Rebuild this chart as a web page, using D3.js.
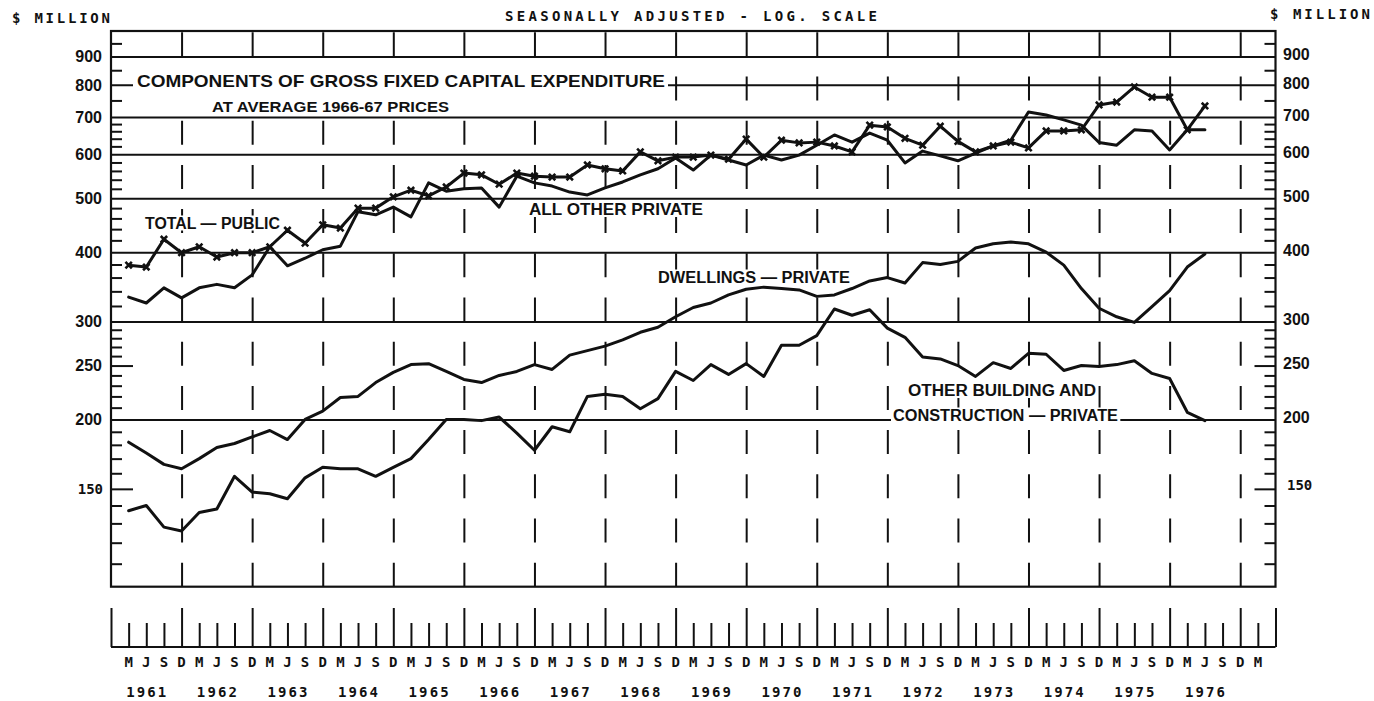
<!DOCTYPE html>
<meta charset="utf-8">
<style>
body { margin: 0; background: #fff; }
svg { display: block; background: #fff; }
.axis path { display: none; }
.axis line { stroke: #111; stroke-width: 2; }
.grid line { stroke: #111; stroke-width: 2; }
.vgrid line { stroke: #111; stroke-width: 2; stroke-dasharray: 24, 20.2; }
.plotter { font-family: "DejaVu Sans Mono", monospace; font-weight: bold; fill: #111; }
.bold { font-family: "Liberation Sans", Arial, sans-serif; font-weight: bold; fill: #111; }
.series { fill: none; stroke: #111; stroke-width: 3; stroke-linejoin: round; stroke-linecap: round; }
.marker { stroke: #111; stroke-width: 2.6; fill: none; }
</style>

<svg width="1374" height="701"></svg>

<script src="https://d3js.org/d3.v7.min.js"></script>
<script>

// quarter index: 0 = D 1960, 1 = M 1961 ... 62 = J 1976, 66 = J 1977 (right edge)
var quarterIdx = d3.range(1, 63);

// $ million, one value per quarter M 1961 .. J 1976
var totalPublic = [379, 376, 422, 399, 409, 392, 399, 399, 409, 438,
                   415, 448, 442, 480, 480, 503, 517, 505, 524, 555,
                   551, 530, 555, 548, 546, 546, 574, 565, 560, 606,
                   584, 593, 593, 598, 588, 639, 593, 636, 629, 631,
                   621, 606, 677, 672, 641, 623, 674, 633, 606, 621,
                   631, 616, 661, 661, 664, 736, 745, 793, 760, 760,
                   664, 733];

var allOtherPrivate = [332, 324, 345, 331, 345, 350, 345, 364, 409, 378,
                       390, 404, 410, 473, 467, 482, 463, 533, 515, 520,
                       522, 482, 548, 533, 526, 513, 507, 522, 535, 551,
                       565, 591, 562, 598, 586, 574, 598, 586, 598, 623,
                       650, 631, 655, 636, 579, 608, 596, 584, 603, 621,
                       636, 715, 706, 692, 677, 630, 623, 664, 661, 611,
                       664, 664];

var dwellingsPrivate = [182, 174, 166, 163, 170, 178, 181, 186, 191, 184,
                        200, 207, 219, 220, 233, 243, 251, 252, 244, 236,
                        233, 240, 244, 251, 246, 261, 266, 271, 278, 287,
                        293, 306, 318, 324, 335, 343, 346, 344, 342, 333,
                        335, 344, 355, 360, 352, 383, 380, 385, 407, 414,
                        417, 414, 400, 379, 344, 317, 306, 299, 319, 341,
                        376, 397];

var otherBuilding = [137, 140, 128, 126, 136, 138, 158, 148, 147, 144,
                     157, 164, 163, 163, 158, 164, 170, 184, 200, 200,
                     199, 202, 189, 176, 194, 190, 220, 222, 220, 209,
                     218, 244, 235, 251, 241, 252, 239, 272, 272, 283,
                     316, 308, 315, 292, 281, 259, 257, 250, 239, 253,
                     247, 263, 262, 245, 250, 249, 251, 255, 242, 237,
                     206, 199];

// axis stuff
var gridValues = [200, 300, 400, 500, 600, 700, 800, 900];
var boldLabels = [200, 250, 300, 400, 500, 600, 700, 800, 900];
var minorTicks = [110, 120, 130, 140, 160, 170, 180, 190,
                  210, 220, 230, 240, 260, 270, 280, 290,
                  320, 340, 360, 380, 420, 440, 460, 480,
                  520, 540, 560, 580, 620, 640, 660, 680,
                  750, 850, 950];
var longTicks = [150, 250];
var monthNames = ["M", "J", "S", "D"];
var years = d3.range(1961, 1977);

var svg = d3.select("svg");

var x = d3.scaleLinear().domain([0, 66]).range([111, 1275.5]);
var y = d3.scaleLog().domain([100, 1000]).range([586.7, 31]);

// (window.top is read-only, so not called "top")
var plotLeft = x(0), plotRight = x(66), plotTop = y(1000), plotBottom = y(100);
var plotW = plotRight - plotLeft, plotH = plotBottom - plotTop;

// horizontal grid
svg.append("g")
    .attr("class", "grid")
    .attr("transform", "translate(" + plotLeft + ",0)")
    .call(d3.axisRight(y).tickValues(gridValues).tickSize(plotW).tickFormat(""))
    .select(".domain").remove();

// dashed yearly verticals (at each D)
svg.append("g")
    .attr("class", "vgrid")
    .attr("transform", "translate(0," + plotBottom + ")")
    .call(d3.axisBottom(x).tickValues(d3.range(4, 65, 4)).tickSize(-plotH).tickFormat(""))
    .select(".domain").remove();

// minor ticks inside the frame, both sides
svg.append("g")
    .attr("class", "axis")
    .attr("transform", "translate(" + plotLeft + ",0)")
    .call(d3.axisRight(y).tickValues(minorTicks).tickSize(11).tickFormat(""));
svg.append("g")
    .attr("class", "axis")
    .attr("transform", "translate(" + plotRight + ",0)")
    .call(d3.axisLeft(y).tickValues(minorTicks).tickSize(11).tickFormat(""));
svg.append("g")
    .attr("class", "axis")
    .attr("transform", "translate(" + plotLeft + ",0)")
    .call(d3.axisRight(y).tickValues(longTicks).tickSize(22).tickFormat(""));
svg.append("g")
    .attr("class", "axis")
    .attr("transform", "translate(" + plotRight + ",0)")
    .call(d3.axisLeft(y).tickValues(longTicks).tickSize(21).tickFormat(""));

// frame
svg.append("rect")
    .attr("x", plotLeft).attr("y", plotTop)
    .attr("width", plotW).attr("height", plotH)
    .attr("fill", "none").attr("stroke", "#111").attr("stroke-width", 2.2);

// y labels
svg.append("g").selectAll("text")
    .data(boldLabels).enter().append("text")
    .attr("class", "bold")
    .attr("x", 102)
    .attr("y", function(d) { return y(d); })
    .attr("dy", "0.36em")
    .attr("text-anchor", "end")
    .style("font-size", "16px")
    .text(function(d) { return d; });

svg.append("g").selectAll("text")
    .data(boldLabels).enter().append("text")
    .attr("class", "bold")
    .attr("x", 1283)
    .attr("y", function(d) { return y(d) - 2; })
    .attr("dy", "0.36em")
    .style("font-size", "16px")
    .text(function(d) { return d; });

svg.append("text").attr("class", "plotter")
    .attr("x", 103).attr("y", y(150)).attr("dy", "0.36em")
    .attr("text-anchor", "end")
    .style("font-size", "14px")
    .text("150");
svg.append("text").attr("class", "plotter")
    .attr("x", 1287).attr("y", y(150) - 4).attr("dy", "0.36em")
    .style("font-size", "14px")
    .text("150");

// header texts
function plotterText(str, x0, yb, len, size) {
  return svg.append("text").attr("class", "plotter")
    .attr("x", x0).attr("y", yb)
    .attr("textLength", len).attr("lengthAdjust", "spacing")
    .style("font-size", size + "px")
    .text(str);
}
plotterText("$ MILLION", 12, 23, 98, 14);
plotterText("$ MILLION", 1270, 18.5, 100, 14);
plotterText("SEASONALLY ADJUSTED - LOG. SCALE", 505, 20.5, 372, 14);

// bottom time strip
var stripY = 647;
svg.append("line")
    .attr("x1", plotLeft).attr("x2", plotRight)
    .attr("y1", stripY).attr("y2", stripY)
    .attr("stroke", "#111").attr("stroke-width", 2.2);
svg.append("g")
    .attr("class", "axis")
    .attr("transform", "translate(0," + stripY + ")")
    .call(d3.axisTop(x).tickValues(d3.range(0, 67).filter(function(i) { return i % 4 != 0 && i != 66; }))
          .tickSize(24).tickFormat(""));
svg.append("g")
    .attr("class", "axis")
    .attr("transform", "translate(0," + stripY + ")")
    .call(d3.axisTop(x).tickValues(d3.range(0, 65, 4).concat([66])).tickSize(39).tickFormat(""));

svg.append("g").selectAll("text")
    .data(d3.range(1, 66)).enter().append("text")
    .attr("class", "plotter")
    .attr("x", function(i) { return x(i); })
    .attr("y", 667)
    .attr("text-anchor", "middle")
    .style("font-size", "14px")
    .text(function(i) { return monthNames[(i - 1) % 4]; });

svg.append("g").selectAll("text")
    .data(years).enter().append("text")
    .attr("class", "plotter")
    .attr("x", function(d) { return x((d - 1961) * 4 + 2) - 20; })
    .attr("y", 697)
    .attr("textLength", 40).attr("lengthAdjust", "spacing")
    .style("font-size", "14px")
    .text(function(d) { return d; });

// labels with white boxes behind them
var labelLayer = svg.append("g");

svg.append("rect")
    .attr("x", 133).attr("y", 66).attr("width", 535).attr("height", 48)
    .attr("fill", "#fff");

function boldLabel(str, x0, yb, len, size) {
  var t = labelLayer.append("text").attr("class", "bold")
    .attr("x", x0).attr("y", yb)
    .attr("textLength", len).attr("lengthAdjust", "spacingAndGlyphs")
    .style("font-size", size + "px")
    .text(str);
  var bb = t.node().getBBox();
  labelLayer.insert("rect", "text")
    .attr("x", bb.x - 2).attr("y", bb.y + 1)
    .attr("width", bb.width + 4).attr("height", bb.height - 2)
    .attr("fill", "#fff");
  return t;
}

labelLayer.raise();
boldLabel("COMPONENTS OF GROSS FIXED CAPITAL EXPENDITURE", 137, 87, 528, 17);
boldLabel("AT AVERAGE 1966-67 PRICES", 212, 112, 237, 14);
boldLabel("TOTAL \u2014 PUBLIC", 145, 228.5, 135, 16);
boldLabel("ALL OTHER PRIVATE", 529, 215, 174, 16.5);
boldLabel("DWELLINGS \u2014 PRIVATE", 658, 282.5, 192, 16);
boldLabel("OTHER BUILDING AND", 908, 396, 188, 16);
boldLabel("CONSTRUCTION \u2014 PRIVATE", 893, 420.5, 225, 16);

// series
var line = d3.line()
    .x(function(d) { return x(d[0]); })
    .y(function(d) { return y(d[1]); });

function pairs(vals) {
  return quarterIdx.map(function(q, i) { return [q, vals[i]]; });
}

[allOtherPrivate, dwellingsPrivate, otherBuilding, totalPublic].forEach(function(s) {
  svg.append("path")
      .datum(pairs(s))
      .attr("class", "series")
      .attr("d", line);
});

svg.append("g").selectAll("path")
    .data(pairs(totalPublic)).enter().append("path")
    .attr("class", "marker")
    .attr("transform", function(d) { return "translate(" + x(d[0]) + "," + y(d[1]) + ")"; })
    .attr("d", "M-3.2,-3.2L3.2,3.2M-3.2,3.2L3.2,-3.2");

</script>
